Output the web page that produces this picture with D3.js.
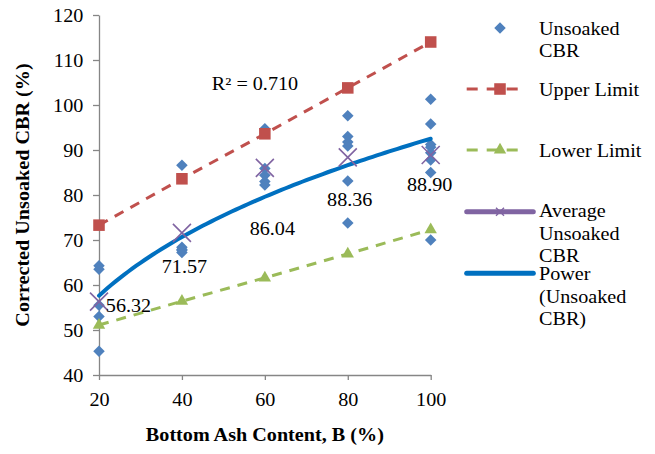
<!DOCTYPE html>
<html>
<head>
<meta charset="utf-8">
<script src="https://cdn.jsdelivr.net/npm/d3@7/dist/d3.min.js"></script>
<style>
  html, body { margin: 0; padding: 0; background: #fff; }
  svg { display: block; }
</style>
</head>
<body>
<div id="chart"></div>
<script>
// ---------------- DATA ----------------
const bottomAsh = [20, 40, 60, 80, 100];
const unsoaked20  = [64.3, 63.5, 55.5, 53.0, 45.3];
const unsoaked40  = [86.6, 68.4, 67.9, 67.2, 67.7];
const unsoaked60  = [94.7, 85.9, 84.4, 83.0, 82.2];
const unsoaked80  = [97.6, 93.0, 91.8, 90.9, 83.1, 73.8];
const unsoaked100 = [101.3, 95.8, 91.2, 90.6, 89.4, 87.8, 85.0, 70.0];
const upperLimit = [73.3, 83.6, 93.6, 103.8, 114.0];
const lowerLimit = [51.1, 56.4, 61.6, 66.9, 72.3];
const averageCBR = [56.32, 71.57, 86.04, 88.36, 88.90];
const yTicks = [40, 50, 60, 70, 80, 90, 100, 110, 120];
const xTicks = [20, 40, 60, 80, 100];
const r2Text = "R² = 0.710";

// ---------------- LAYOUT ----------------
const W = 655, H = 454;
const SX = 1.12;           // horizontal text stretch of reference
const FONT = "'Liberation Serif','Times New Roman',serif";
const FS = 18;
const colors = {
  unsoaked: "#4F81BD", upper: "#C0504D", lower: "#9BBB59",
  avg: "#8064A2", power: "#0070C0", axis: "#868686"
};
// label offsets (px) relative to each average point
const labelOffsets = [[29.5, 10], [2.5, 39.8], [7.5, 67], [2, 48.6], [-1, 36.5]];

const svg = d3.select("#chart").append("svg")
  .attr("width", W).attr("height", H).attr("viewBox", `0 0 ${W} ${H}`);
svg.append("rect").attr("width", W).attr("height", H).attr("fill", "#fff");

const x = d3.scaleLinear().domain([20, 100]).range([99, 430.7]);
const y = d3.scaleLinear().domain([40, 120]).range([375, 15]);

function txt(parent, px, py, s, opts = {}) {
  const t = parent.append("text")
    .attr("transform", `translate(${px},${py})` + (opts.rotate ? ` rotate(${opts.rotate})` : "") + ` scale(${SX},1)`)
    .attr("font-family", FONT)
    .attr("font-size", opts.size || FS)
    .attr("font-weight", opts.bold ? "bold" : "normal")
    .attr("text-anchor", opts.anchor || "start")
    .attr("fill", "#000")
    .text(s);
  return t;
}

// ---------------- AXES ----------------
const yAxis = d3.axisLeft(y).tickValues(yTicks).tickSize(6).tickSizeOuter(0).tickPadding(8);
const gy = svg.append("g").attr("transform", `translate(${x(20)},0)`).call(yAxis);
const xAxis = d3.axisBottom(x).tickValues(xTicks).tickSize(5).tickSizeOuter(0).tickPadding(13);
const gx = svg.append("g").attr("transform", `translate(0,${y(40)})`).call(xAxis);
[gx, gy].forEach(g => {
  g.select(".domain").attr("stroke", colors.axis).attr("stroke-width", 1.3);
  g.selectAll(".tick line").attr("stroke", colors.axis).attr("stroke-width", 1.3);
  g.selectAll(".tick text")
    .attr("font-family", FONT).attr("font-size", FS).attr("fill", "#000")
    .attr("transform", `scale(${SX},1)`);
});
gy.selectAll(".tick text").attr("dy", "0.37em");

// axis titles
txt(svg, (x(20) + x(100)) / 2, 441, "Bottom Ash Content, B (%)", { bold: true, anchor: "middle" });
txt(svg, 28.5, (y(40) + y(120)) / 2, "Corrected Unsoaked CBR (%)", { bold: true, anchor: "middle", rotate: -90 });

// ---------------- MARKS ----------------
const unsoakedGroups = [unsoaked20, unsoaked40, unsoaked60, unsoaked80, unsoaked100];
const unsoakedPts = [];
unsoakedGroups.forEach((arr, i) => arr.forEach(v => unsoakedPts.push([bottomAsh[i], v])));

const diamond = d3.symbol().type(d3.symbolDiamond2).size(85);
const square = d3.symbol().type(d3.symbolSquare2).size(170);
const triangle = d3.symbol().type(d3.symbolTriangle2).size(110);

function xPath(s) { return `M${-s},${-s}L${s},${s}M${-s},${s}L${s},${-s}`; }

// diamonds
svg.append("g").selectAll("path").data(unsoakedPts).join("path")
  .attr("d", diamond)
  .attr("transform", d => `translate(${x(d[0])},${y(d[1])})`)
  .attr("fill", colors.unsoaked);

// power trendline (least squares in log-log space, as spreadsheet does)
const lx = unsoakedPts.map(d => Math.log(d[0]));
const ly = unsoakedPts.map(d => Math.log(d[1]));
const mx = d3.mean(lx), my = d3.mean(ly);
const b = d3.sum(lx, (v, i) => (v - mx) * (ly[i] - my)) / d3.sum(lx, v => (v - mx) * (v - mx));
const a = Math.exp(my - b * mx);
const curve = d3.range(20, 100.01, 1).map(t => [t, a * Math.pow(t, b)]);
const line = d3.line().x(d => x(d[0])).y(d => y(d[1]));
svg.append("path").datum(curve).attr("d", line)
  .attr("fill", "none").attr("stroke", colors.power).attr("stroke-width", 4).attr("stroke-linecap", "round");

// upper limit
const upperPts = bottomAsh.map((t, i) => [t, upperLimit[i]]);
svg.append("path").datum(upperPts).attr("d", line)
  .attr("fill", "none").attr("stroke", colors.upper).attr("stroke-width", 3).attr("stroke-dasharray", "10,8");
svg.append("g").selectAll("path").data(upperPts).join("path")
  .attr("d", square).attr("transform", d => `translate(${x(d[0])},${y(d[1])})`).attr("fill", colors.upper);

// lower limit
const lowerPts = bottomAsh.map((t, i) => [t, lowerLimit[i]]);
svg.append("path").datum(lowerPts).attr("d", line)
  .attr("fill", "none").attr("stroke", colors.lower).attr("stroke-width", 3).attr("stroke-dasharray", "10,8");
svg.append("g").selectAll("path").data(lowerPts).join("path")
  .attr("d", triangle).attr("transform", d => `translate(${x(d[0])},${y(d[1])})`).attr("fill", colors.lower);

// average markers
const avgPts = bottomAsh.map((t, i) => [t, averageCBR[i]]);
svg.append("g").selectAll("path").data(avgPts).join("path")
  .attr("d", xPath(9)).attr("transform", d => `translate(${x(d[0])},${y(d[1])})`)
  .attr("stroke", colors.avg).attr("stroke-width", 1.6).attr("fill", "none");

// average labels
avgPts.forEach((d, i) => {
  txt(svg, x(d[0]) + labelOffsets[i][0], y(d[1]) + labelOffsets[i][1], averageCBR[i].toFixed(2), { anchor: "middle" });
});

// R² label
txt(svg, 255, 90, r2Text, { anchor: "middle" });

// ---------------- LEGEND ----------------
const lg = svg.append("g");
const symX = 500, textX = 539;
// Unsoaked CBR
lg.append("path").attr("d", diamond).attr("transform", `translate(${symX},28)`).attr("fill", colors.unsoaked);
txt(lg, textX, 34.5, "Unsoaked");
txt(lg, textX, 56.5, "CBR");
// Upper Limit
lg.append("line").attr("x1", 466.7).attr("x2", 520.7).attr("y1", 89).attr("y2", 89)
  .attr("stroke", colors.upper).attr("stroke-width", 3).attr("stroke-dasharray", "11,9");
lg.append("path").attr("d", square).attr("transform", `translate(${symX},89)`).attr("fill", colors.upper);
txt(lg, textX, 95.7, "Upper Limit");
// Lower Limit
lg.append("line").attr("x1", 466.7).attr("x2", 520.7).attr("y1", 150).attr("y2", 150)
  .attr("stroke", colors.lower).attr("stroke-width", 3).attr("stroke-dasharray", "11,9");
lg.append("path").attr("d", triangle).attr("transform", `translate(${symX},150)`).attr("fill", colors.lower);
txt(lg, textX, 156.7, "Lower Limit");
// Average
lg.append("line").attr("x1", 466.7).attr("x2", 533.3).attr("y1", 211.7).attr("y2", 211.7)
  .attr("stroke", colors.avg).attr("stroke-width", 5).attr("stroke-linecap", "round");
lg.append("path").attr("d", xPath(4)).attr("transform", `translate(${symX},211.7)`)
  .attr("stroke", colors.avg).attr("stroke-width", 1.4).attr("fill", "none");
txt(lg, textX, 216.7, "Average");
txt(lg, textX, 240, "Unsoaked");
txt(lg, textX, 262, "CBR");
// Power
lg.append("line").attr("x1", 466.7).attr("x2", 533.3).attr("y1", 273.3).attr("y2", 273.3)
  .attr("stroke", colors.power).attr("stroke-width", 5).attr("stroke-linecap", "round");
txt(lg, textX, 280, "Power");
txt(lg, textX, 302.5, "(Unsoaked");
txt(lg, textX, 324.5, "CBR)");
</script>
</body>
</html>
